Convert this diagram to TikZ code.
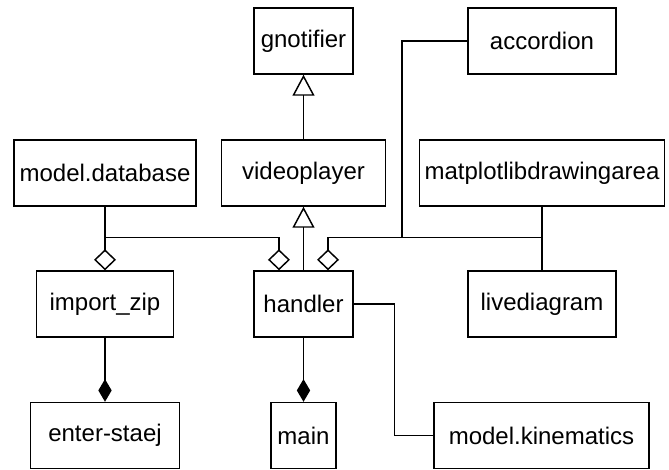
\documentclass[tikz,border=0pt]{standalone}
\usepackage{fontspec}
\setmainfont{Liberation Sans}
\usepackage{tikz}
\usetikzlibrary{arrows.meta}
\tikzset{C/.style={draw, line width=1.1pt, inner sep=0pt, minimum height=49.5pt, font=\fontsize{18}{22}\selectfont}}
\tikzset{inh/.style={-{Triangle[open, length=15.75pt, width=16.5pt]}}}
\tikzset{agg/.style={-{Diamond[open, length=15.75pt, width=16.5pt]}}}
\tikzset{comp/.style={-{Diamond[length=17pt, width=10pt]}}}

\begin{document}
\begin{tikzpicture}[x=0.75pt, y=-0.75pt, line width=1.1pt]
            \useasboundingbox (0,0) rectangle (669,469);
            \node[C, minimum width=74.25pt] (gnotifier) at (303.5,41) {gnotifier};
            \node[C, minimum width=111pt] (accordion) at (542,41) {accordion};
            \node[C, minimum width=136.5pt] (database) at (105,173) {model.database};
            \node[C, minimum width=123pt] (videoplayer) at (303.5,173) {videoplayer};
            \node[C, minimum width=183.75pt] (drawingarea) at (542,173) {matplotlibdrawingarea};
            \node[C, minimum width=102.75pt] (importzip) at (105,304) {import\_zip};
            \node[C, minimum width=74.25pt] (handler) at (303.5,304) {handler};
            \node[C, minimum width=111pt] (livediagram) at (542,304) {livediagram};
            \node[C, minimum width=111.75pt] (enterstaej) at (105,435.5) {enter-staej};
            \node[C, minimum width=48.75pt] (main) at (303.5,435.5) {main};
            \node[C, minimum width=161.25pt] (kinematics) at (541.5,435.5) {model.kinematics};
            \coordinate (bus) at (402,238);

            \draw[inh] (videoplayer) -- (gnotifier);
            \draw[inh] (handler) -- (videoplayer);
            \draw[agg] (database) -- (importzip);
            \draw[agg] (database.south) |- ([xshift=-18.4pt, yshift=24.75pt]handler.north) -- ([xshift=-18.4pt]handler.north);
            \draw[agg] (drawingarea.south) |- ([xshift=18.4pt, yshift=24.75pt]handler.north) -- ([xshift=18.4pt]handler.north);
            \draw (accordion.west) -| (bus);
            \draw (drawingarea) -- (livediagram);
            \draw[comp] (handler) -- (main);
            \draw[comp] (importzip) -- (enterstaej);
            \draw (handler.east) -- ++(30.75pt,0) |- (kinematics.west);
        \end{tikzpicture}
\end{document}
